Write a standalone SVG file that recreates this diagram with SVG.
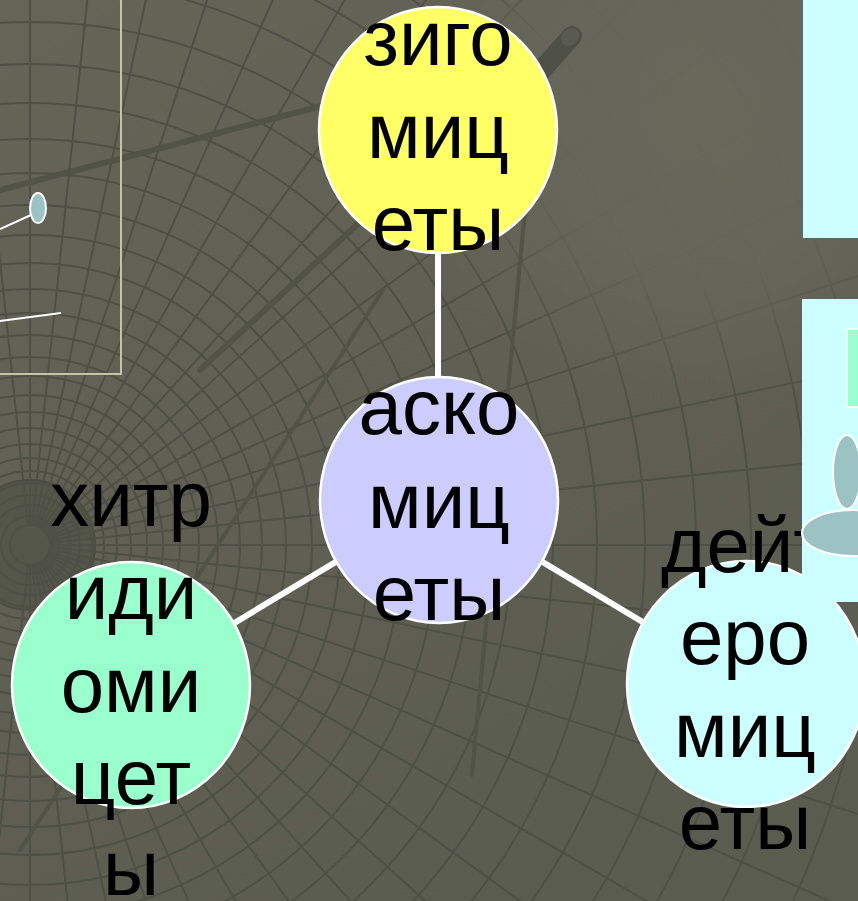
<svg xmlns="http://www.w3.org/2000/svg" xmlns:xlink="http://www.w3.org/1999/xlink" width="858" height="901" viewBox="0 0 858 901">
<style>
.grid{fill:none;stroke:#4f5045;stroke-width:2}
.thick{stroke:#525347;stroke-linecap:round;fill:none}
.node{stroke:#ffffff;stroke-width:2.5}
.lbl{font-family:"Liberation Sans",Arial,sans-serif;font-size:78px;fill:#000;text-anchor:middle}
.conn{stroke:#ffffff;stroke-width:6;fill:none}
.deco{fill:#9cc3c3;stroke:#ffffff;stroke-width:2}
</style>
<defs>
<linearGradient id="bg" x1="0" y1="0" x2="0.6" y2="1">
<stop offset="0" stop-color="#646557"/>
<stop offset="1" stop-color="#5b5c50"/>
</linearGradient>
<radialGradient id="fade" cx="700" cy="110" r="300" gradientUnits="userSpaceOnUse">
<stop offset="0" stop-color="#67685a" stop-opacity="1"/>
<stop offset="0.55" stop-color="#66675a" stop-opacity="0.9"/>
<stop offset="1" stop-color="#66675a" stop-opacity="0"/>
</radialGradient>
<line id="ray" x1="50" y1="545" x2="1330" y2="545"/>
</defs>
<rect x="0" y="0" width="858" height="901" fill="url(#bg)"/>
<g id="background-grid" class="grid">
<circle cx="30" cy="545" r="65" fill="#55564a" stroke="#4c4d42"/>
<circle cx="30" cy="545" r="20"/><circle cx="30" cy="545" r="29"/><circle cx="30" cy="545" r="40"/><circle cx="30" cy="545" r="50"/><circle cx="30" cy="545" r="62"/><circle cx="30" cy="545" r="74"/><circle cx="30" cy="545" r="87"/><circle cx="30" cy="545" r="101"/><circle cx="30" cy="545" r="117"/><circle cx="30" cy="545" r="133"/><circle cx="30" cy="545" r="150"/><circle cx="30" cy="545" r="169"/><circle cx="30" cy="545" r="188"/><circle cx="30" cy="545" r="210"/><circle cx="30" cy="545" r="232"/><circle cx="30" cy="545" r="256"/><circle cx="30" cy="545" r="282"/><circle cx="30" cy="545" r="310"/><circle cx="30" cy="545" r="340"/><circle cx="30" cy="545" r="372"/><circle cx="30" cy="545" r="406"/><circle cx="30" cy="545" r="442"/><circle cx="30" cy="545" r="481"/><circle cx="30" cy="545" r="523"/><circle cx="30" cy="545" r="567"/><circle cx="30" cy="545" r="615"/><circle cx="30" cy="545" r="666"/><circle cx="30" cy="545" r="721"/><circle cx="30" cy="545" r="779"/><circle cx="30" cy="545" r="842"/><circle cx="30" cy="545" r="908"/><circle cx="30" cy="545" r="980"/>
<use xlink:href="#ray" transform="rotate(-90 30 545)"/><use xlink:href="#ray" transform="rotate(-84 30 545)"/><use xlink:href="#ray" transform="rotate(-78 30 545)"/><use xlink:href="#ray" transform="rotate(-72 30 545)"/><use xlink:href="#ray" transform="rotate(-66 30 545)"/><use xlink:href="#ray" transform="rotate(-60 30 545)"/><use xlink:href="#ray" transform="rotate(-54 30 545)"/><use xlink:href="#ray" transform="rotate(-48 30 545)"/><use xlink:href="#ray" transform="rotate(-42 30 545)"/><use xlink:href="#ray" transform="rotate(-36 30 545)"/><use xlink:href="#ray" transform="rotate(-30 30 545)"/><use xlink:href="#ray" transform="rotate(-24 30 545)"/><use xlink:href="#ray" transform="rotate(-18 30 545)"/><use xlink:href="#ray" transform="rotate(-12 30 545)"/><use xlink:href="#ray" transform="rotate(-6 30 545)"/><use xlink:href="#ray"/><use xlink:href="#ray" transform="rotate(6 30 545)"/><use xlink:href="#ray" transform="rotate(12 30 545)"/><use xlink:href="#ray" transform="rotate(18 30 545)"/><use xlink:href="#ray" transform="rotate(24 30 545)"/><use xlink:href="#ray" transform="rotate(30 30 545)"/><use xlink:href="#ray" transform="rotate(36 30 545)"/><use xlink:href="#ray" transform="rotate(42 30 545)"/><use xlink:href="#ray" transform="rotate(48 30 545)"/><use xlink:href="#ray" transform="rotate(54 30 545)"/><use xlink:href="#ray" transform="rotate(60 30 545)"/><use xlink:href="#ray" transform="rotate(66 30 545)"/><use xlink:href="#ray" transform="rotate(72 30 545)"/><use xlink:href="#ray" transform="rotate(78 30 545)"/><use xlink:href="#ray" transform="rotate(84 30 545)"/><use xlink:href="#ray" transform="rotate(90 30 545)"/><use xlink:href="#ray" transform="rotate(-96 30 545)"/><use xlink:href="#ray" transform="rotate(96 30 545)"/>
</g>
<rect x="300" y="0" width="558" height="460" fill="url(#fade)"/>
<g id="background-strokes">
<line class="thick" x1="0" y1="190" x2="325" y2="105" stroke-width="6"/>
<line class="thick" x1="200" y1="370" x2="360" y2="222" stroke-width="6"/>
<line class="thick" x1="525" y1="210" x2="472" y2="775" stroke-width="4"/>
<line class="thick" x1="20" y1="850" x2="383" y2="290" stroke-width="4"/>
<line x1="572" y1="36" x2="470" y2="150" stroke="#4e4f45" stroke-width="20" stroke-linecap="round"/>
<ellipse cx="570" cy="37" rx="10" ry="8" fill="#5a5b50" transform="rotate(-40 570 37)"/>
</g>
<g id="left-panel">
<rect x="-10" y="-10" width="131" height="384" fill="none" stroke="#c4c4ad" stroke-width="2"/>
<line x1="0" y1="229" x2="31" y2="215" stroke="#fff" stroke-width="2"/>
<line x1="0" y1="321" x2="61" y2="313" stroke="#fff" stroke-width="2"/>
<ellipse class="deco" cx="38" cy="208" rx="8" ry="15"/>
</g>
<g id="connectors">
<line class="conn" x1="438" y1="240" x2="438" y2="390"/>
<line class="conn" x1="439" y1="500" x2="131" y2="685"/>
<line class="conn" x1="439" y1="500" x2="746" y2="684"/>
</g>
<g id="node-zygomycetes">
<ellipse class="node" cx="438" cy="130" rx="119" ry="123" fill="#ffff66"/>
<text class="lbl"><tspan x="438" y="65">зиго</tspan><tspan x="438" y="158">миц</tspan><tspan x="438" y="250">еты</tspan></text>
</g>
<g id="node-ascomycetes">
<ellipse class="node" cx="439" cy="500" rx="119" ry="123" fill="#ccccff"/>
<text class="lbl"><tspan x="439" y="434">аско</tspan><tspan x="439" y="528">миц</tspan><tspan x="439" y="620">еты</tspan></text>
</g>
<g id="node-chytridiomycetes">
<ellipse class="node" cx="131" cy="685" rx="119" ry="123" fill="#99ffcc"/>
<text class="lbl"><tspan x="131" y="526">хитр</tspan><tspan x="131" y="619">иди</tspan><tspan x="131" y="712">оми</tspan><tspan x="131" y="804">цет</tspan><tspan x="131" y="895">ы</tspan></text>
</g>
<g id="node-deuteromycetes">
<ellipse class="node" cx="746" cy="684" rx="119" ry="123" fill="#ccffff"/>
<text class="lbl"><tspan x="745" y="572">дейт</tspan><tspan x="745" y="664">еро</tspan><tspan x="745" y="757">миц</tspan><tspan x="745" y="849">еты</tspan></text>
</g>
<g id="right-panels">
<rect x="803" y="0" width="60" height="238" fill="#ccffff"/>
<rect x="802" y="299" width="60" height="303" fill="#ccffff"/>
<rect x="847" y="329" width="20" height="78" fill="#99ffcc" stroke="#fff" stroke-width="1.5"/>
<ellipse class="deco" cx="847" cy="472" rx="14" ry="37"/>
<ellipse class="deco" cx="852" cy="533" rx="50" ry="23"/>
</g>
</svg>
